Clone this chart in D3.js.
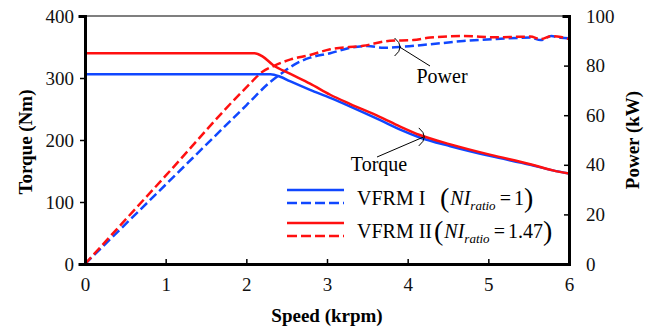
<!DOCTYPE html>
<html>
<head>
<meta charset="utf-8">
<script src="https://cdn.jsdelivr.net/npm/d3@7"></script>
<style>
  body { margin: 0; background: #fff; }
  svg { display: block; }
  svg text { font-family: "Liberation Serif", "DejaVu Serif", "Times New Roman", serif; }
</style>
</head>
<body>
<svg width="660" height="329"></svg>
<script>
// values
let speedT1 = [0, 2.3, 2.42, 2.54, 2.79, 3.04, 3.29, 3.66, 3.9, 4.15, 4.53, 5.03, 5.52, 5.8, 6.0];
let torque1 = [306, 306, 302, 295, 281, 268, 254, 232, 217, 204, 190, 174, 160, 151, 146];

let speedT2 = [0, 2.1, 2.2, 2.33, 2.54, 2.79, 3.04, 3.29, 3.66, 3.9, 4.15, 4.53, 5.03, 5.52, 5.8, 6.0];
let torque2 = [340, 340, 335, 321, 307, 291, 273, 258, 237, 222, 208, 193, 176, 161, 151, 146];

let speedP1 = [0, 1, 2.0, 2.3, 2.42, 2.6, 2.79, 3.04, 3.29, 3.5, 3.7, 3.94, 4.28, 4.69, 5.1, 5.52, 5.65, 5.78, 5.9, 6.0];
let power1 = [0, 32, 64, 73.5, 76.5, 80.5, 83.2, 85, 87.2, 87.9, 87.2, 87.6, 88.6, 89.9, 90.7, 91.3, 90.3, 91.9, 91.2, 91];

let speedP2 = [0, 1, 2.0, 2.2, 2.35, 2.55, 2.79, 3.04, 3.45, 3.78, 4.07, 4.28, 4.69, 5.1, 5.52, 5.65, 5.78, 5.9, 6.0];
let power2 = [0, 35.6, 71.2, 77.5, 80, 82.5, 84.3, 86.6, 88, 90, 90.3, 91.3, 91.9, 91.4, 91.7, 90.7, 91.9, 91.5, 90.7];

let xTicks = [0, 1, 2, 3, 4, 5, 6];
let torqueTicks = [0, 100, 200, 300, 400];
let powerTicks = [0, 20, 40, 60, 80, 100];

let blue = "#1047ff", red = "#ff1010";
let serif = "'Liberation Serif', 'DejaVu Serif', serif";

let svg = d3.select("svg");

let x = d3.scaleLinear().domain([0, 6]).range([85, 569]);
let yT = d3.scaleLinear().domain([0, 400]).range([264, 16]);
let yP = d3.scaleLinear().domain([0, 100]).range([264, 16]);

function toPts(xs, ys) {
  return xs.map(function(d, i) { return [d, ys[i]]; });
}

let lineT = d3.line()
    .x(function(d) { return x(d[0]); })
    .y(function(d) { return yT(d[1]); })
    .curve(d3.curveMonotoneX);

let lineP = d3.line()
    .x(function(d) { return x(d[0]); })
    .y(function(d) { return yP(d[1]); })
    .curve(d3.curveMonotoneX);

// top border
svg.append("line")
    .attr("x1", x(0)).attr("x2", x(6))
    .attr("y1", yT(400)).attr("y2", yT(400))
    .attr("stroke", "black").attr("stroke-width", 1.2);

// series
let series = [
  { d: lineP(toPts(speedP1, power1)), c: blue, dash: "9,4" },
  { d: lineP(toPts(speedP2, power2)), c: red, dash: "9,4" },
  { d: lineT(toPts(speedT1, torque1)), c: blue, dash: null },
  { d: lineT(toPts(speedT2, torque2)), c: red, dash: null }
];

svg.append("g")
  .selectAll("path")
  .data(series)
  .enter().append("path")
    .attr("d", function(d) { return d.d; })
    .attr("fill", "none")
    .attr("stroke", function(d) { return d.c; })
    .attr("stroke-width", 2.5)
    .attr("stroke-dasharray", function(d) { return d.dash; });

// axes
let fmt = d3.format("d");

let axisLeft = svg.append("g")
    .attr("transform", "translate(" + x(0) + ",0)")
    .call(d3.axisLeft(yT).tickValues(torqueTicks).tickFormat(fmt).tickSize(5).tickPadding(6));

let axisRight = svg.append("g")
    .attr("transform", "translate(" + x(6) + ",0)")
    .call(d3.axisRight(yP).tickValues(powerTicks).tickFormat(fmt).tickSize(-5).tickPadding(17));

let axisBottom = svg.append("g")
    .attr("transform", "translate(0," + yT(0) + ")")
    .call(d3.axisBottom(x).tickValues(xTicks).tickFormat(fmt).tickSize(-5).tickPadding(14));

[axisLeft, axisRight, axisBottom].forEach(function(a) {
  a.attr("font-family", serif).attr("font-size", 19);
  a.select(".domain").attr("stroke-width", 3).attr("stroke-linecap", "square");
  a.selectAll(".tick line").attr("stroke-width", 1.5);
  a.selectAll("text").attr("fill", "#111");
});
axisBottom.selectAll(".tick").filter(function(d) { return d === 0 || d === 6; }).select("line").remove();
axisRight.selectAll(".tick").filter(function(d) { return d === 0 || d === 100; }).select("line").remove();

// axis titles
svg.append("text")
    .attr("x", 327).attr("y", 322)
    .attr("text-anchor", "middle")
    .attr("font-size", 19).attr("font-weight", "bold")
    .text("Speed (krpm)");

svg.append("text")
    .attr("transform", "translate(32,142) rotate(-90)")
    .attr("text-anchor", "middle")
    .attr("font-size", 19).attr("font-weight", "bold")
    .text("Torque (Nm)");

svg.append("text")
    .attr("transform", "translate(639,140) rotate(-90)")
    .attr("text-anchor", "middle")
    .attr("font-size", 19).attr("font-weight", "bold")
    .text("Power (kW)");

// annotations
function bracket(cx, cy) {
  return "M" + (cx - 5) + "," + (cy - 9) + " Q" + (cx + 6) + "," + cy + " " + (cx - 5) + "," + (cy + 9);
}
svg.append("path").attr("d", bracket(x(3.9), yP(87.5)))
    .attr("fill", "none").attr("stroke", "black").attr("stroke-width", 1);
svg.append("line")
    .attr("x1", x(3.9)).attr("y1", yP(87.5))
    .attr("x2", 430).attr("y2", 66)
    .attr("stroke", "black").attr("stroke-width", 1);
svg.append("text")
    .attr("x", 442).attr("y", 83)
    .attr("text-anchor", "middle")
    .attr("font-size", 20)
    .text("Power");

svg.append("path").attr("d", bracket(x(4.2), yT(205)))
    .attr("fill", "none").attr("stroke", "black").attr("stroke-width", 1);
svg.append("line")
    .attr("x1", x(4.2)).attr("y1", yT(205))
    .attr("x2", 377).attr("y2", 157)
    .attr("stroke", "black").attr("stroke-width", 1);
svg.append("text")
    .attr("x", 379).attr("y", 171)
    .attr("text-anchor", "middle")
    .attr("font-size", 20)
    .text("Torque");

// legend
let legend = [
  { name: "VFRM I", ratio: "1", c: blue, y: 190, px: 440 },
  { name: "VFRM II", ratio: "1.47", c: red, y: 223, px: 434 }
];

legend.forEach(function(l) {
  svg.append("line")
      .attr("x1", 287).attr("x2", 344)
      .attr("y1", l.y).attr("y2", l.y)
      .attr("stroke", l.c).attr("stroke-width", 2.5);
  svg.append("line")
      .attr("x1", 287).attr("x2", 344)
      .attr("y1", l.y + 13).attr("y2", l.y + 13)
      .attr("stroke", l.c).attr("stroke-width", 2.5)
      .attr("stroke-dasharray", "10,4");

  let base = l.y + 15;
  svg.append("text")
      .attr("x", 357).attr("y", base)
      .attr("font-size", 20)
      .text(l.name);

  let t = svg.append("text")
      .attr("x", l.px).attr("y", base)
      .attr("font-size", 20);
  t.append("tspan").attr("font-size", 28).attr("dy", 2).text("(");
  t.append("tspan").attr("dx", 1).attr("dy", -2).attr("font-style", "italic").text("NI");
  t.append("tspan").attr("font-style", "italic").attr("font-size", 13).attr("dy", 5).text("ratio");
  t.append("tspan").attr("dx", 4).attr("dy", -5).text("=");
  t.append("tspan").attr("dx", 3).text(l.ratio);
  t.append("tspan").attr("font-size", 28).attr("dy", 2).text(")");
});
</script>
</body>
</html>
